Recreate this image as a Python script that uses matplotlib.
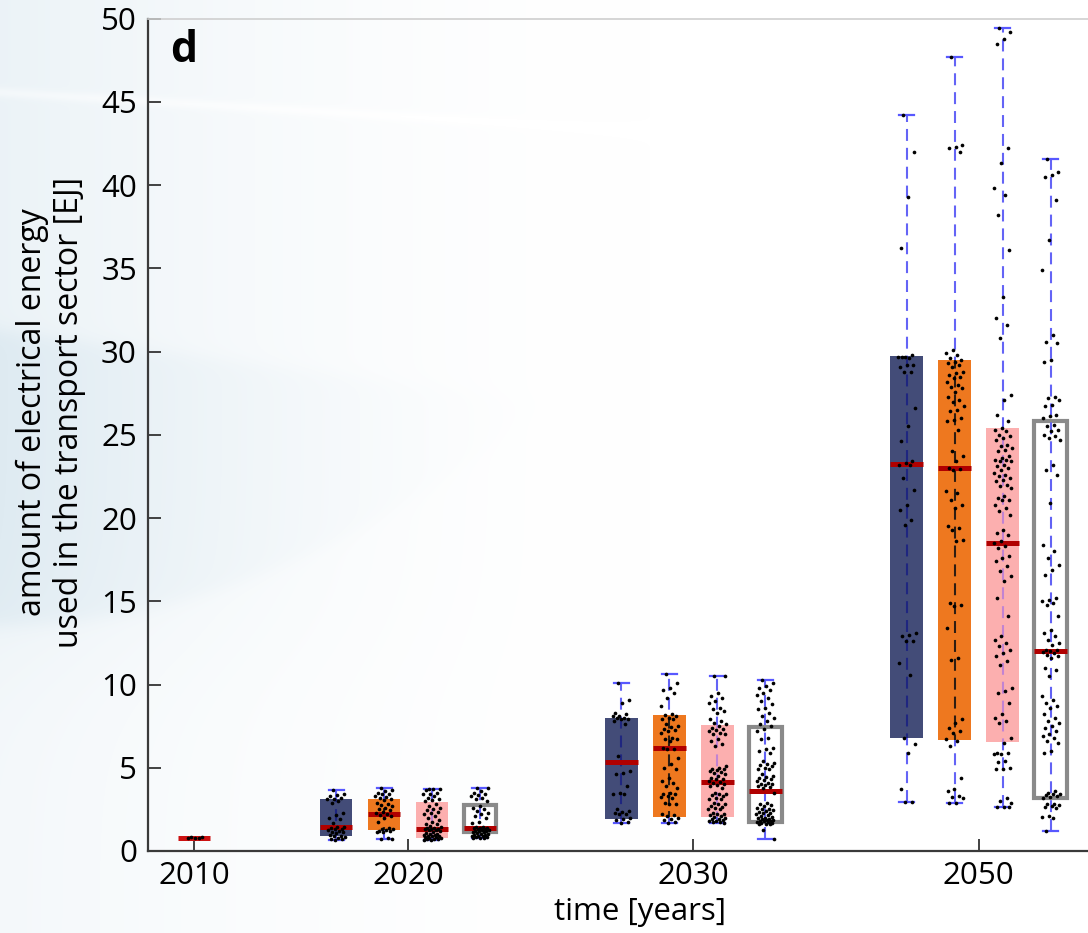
import numpy as np
import matplotlib
matplotlib.use("Agg")
import matplotlib.pyplot as plt

plt.rcParams['font.family'] = ['Open Sans', 'DejaVu Sans']
plt.rcParams['lines.scale_dashes'] = False

# ---------------------------------------------------------------- data
years = ["2010", "2020", "2030", "2050"]
year_pos = [0.0, 1.0, 2.333, 3.667]

# box statistics, rows = 2020, 2030, 2050; columns = scenario sets S1..S4
whis_lo = [[0.66, 0.70, 0.66, 0.76],
           [1.66, 1.70, 1.70, 0.74],
           [2.92, 2.86, 2.64, 1.20]]
q1 = [[0.92, 1.24, 0.76, 1.14],
      [1.90, 2.04, 2.04, 1.76],
      [6.79, 6.67, 6.53, 3.20]]
med = [[1.46, 2.20, 1.30, 1.36],
       [5.37, 6.19, 4.12, 3.62],
       [23.26, 22.98, 18.52, 12.02]]
q3 = [[3.14, 3.14, 2.92, 2.76],
      [8.00, 8.19, 7.57, 7.47],
      [29.73, 29.50, 25.40, 25.85]]
whis_hi = [[3.66, 3.80, 3.72, 3.80],
           [10.11, 10.65, 10.53, 10.29],
           [44.20, 47.67, 49.43, 41.58]]

# 2010 base year
stats_2010 = dict(whislo=0.79, q1=0.79, med=0.81, q3=0.83, whishi=0.83)
pts_2010 = [0.82, 0.82, 0.81, 0.81, 0.80]

# individual scenario values
pts_2020_s1 = [3.66, 3.4, 3.35, 3.3, 3.2, 3.15, 3.1, 3.0, 2.9, 2.3, 2.15, 2.0, 1.9, 1.7,
               1.45, 1.42, 1.4, 1.35, 1.3, 1.25, 1.2, 1.15, 1.12, 1.1, 0.96, 0.92, 0.88,
               0.85, 0.8, 0.75, 0.7, 0.66]
pts_2020_s2 = [3.8, 3.66, 3.6, 3.5, 3.45, 3.4, 3.3, 3.25, 3.2, 3.1, 3.06, 2.9, 2.8, 2.75,
               2.7, 2.6, 2.5, 2.45, 2.35, 2.3, 2.2, 2.15, 2.1, 2.0, 1.74, 1.4, 1.35, 1.3,
               1.25, 1.2, 1.18, 1.15, 1.14, 0.76, 0.72, 0.7]
pts_2020_s3 = [3.72, 3.7, 3.7, 3.68, 3.5, 3.45, 3.4, 3.3, 3.2, 3.1, 3.05, 3.0, 2.8, 2.7,
               2.6, 2.5, 2.45, 2.35, 2.3, 2.2, 2.1, 2.0, 1.85, 1.75, 1.65, 1.6, 1.5, 1.45,
               1.4, 1.38, 1.35, 1.32, 1.3, 1.28, 1.25, 1.2, 1.15, 1.1, 1.05, 1.0, 0.98,
               0.95, 0.92, 0.9, 0.88, 0.85, 0.82, 0.8, 0.78, 0.75, 0.72, 0.7, 0.68, 0.66]
pts_2020_s4 = [3.8, 3.78, 3.6, 3.5, 3.4, 3.35, 3.3, 3.2, 3.1, 3.0, 2.7, 2.6, 2.5, 2.4,
               2.3, 2.2, 2.1, 2.0, 1.74, 1.7, 1.45, 1.42, 1.4, 1.38, 1.36, 1.34, 1.3,
               1.28, 1.25, 1.22, 1.2, 1.18, 1.15, 1.12, 1.1, 1.05, 1.0, 0.98, 0.95, 0.92,
               0.9, 0.88, 0.85, 0.82, 0.8, 0.78, 0.76]

pts_2030_s1 = [10.11, 9.1, 8.9, 8.3, 8.2, 8.1, 8.1, 8.0, 8.0, 7.9, 7.9, 7.8, 7.6, 5.7,
               4.8, 4.7, 4.6, 3.9, 3.5, 3.45, 3.4, 2.5, 2.4, 2.35, 2.3, 2.25, 2.2, 2.0,
               1.9, 1.85, 1.75, 1.66]
pts_2030_s2 = [10.65, 10.1, 9.8, 9.65, 9.5, 9.2, 8.7, 8.2, 8.15, 8.1, 8.0, 7.95, 7.9,
               7.6, 7.5, 7.45, 7.3, 7.25, 7.2, 7.1, 6.8, 6.75, 6.7, 6.6, 6.2, 6.15, 6.1,
               5.6, 5.2, 5.0, 4.9, 4.4, 4.2, 4.1, 3.9, 3.8, 3.5, 3.45, 3.4, 3.3, 3.25,
               3.2, 2.9, 2.85, 2.8, 2.2, 2.15, 2.1, 2.0, 1.9, 1.85, 1.75, 1.7]
pts_2030_s3 = [10.53, 10.5, 9.5, 9.3, 9.2, 9.0, 8.9, 8.6, 8.5, 8.4, 8.3, 7.9, 7.8, 7.7,
               7.6, 7.5, 7.4, 7.3, 7.25, 7.2, 7.1, 7.05, 7.0, 6.7, 6.6, 6.4, 6.3, 5.1,
               5.0, 4.95, 4.9, 4.85, 4.8, 4.75, 4.7, 4.6, 4.5, 4.4, 4.35, 4.3, 4.2, 4.15,
               4.1, 4.0, 3.95, 3.9, 3.8, 3.5, 3.45, 3.4, 3.35, 3.3, 3.2, 3.15, 3.1, 2.9,
               2.85, 2.8, 2.7, 2.65, 2.6, 2.55, 2.5, 2.3, 2.25, 2.2, 2.15, 2.1, 2.05,
               2.0, 1.95, 1.9, 1.85, 1.8, 1.78, 1.75, 1.72, 1.7]
pts_2030_s4 = [10.29, 10.1, 9.9, 9.8, 9.7, 9.5, 9.4, 9.2, 9.0, 8.8, 8.6, 8.5, 8.3, 8.1,
               8.0, 7.8, 7.6, 7.5, 7.3, 7.2, 6.8, 6.75, 6.2, 6.1, 6.0, 5.9, 5.4, 5.3,
               5.2, 5.15, 5.1, 5.0, 4.95, 4.9, 4.6, 4.5, 4.45, 4.4, 4.3, 4.25, 4.2, 4.1,
               4.05, 4.0, 3.95, 3.9, 3.85, 3.8, 3.5, 2.9, 2.8, 2.75, 2.7, 2.6, 2.55, 2.5,
               2.45, 2.4, 2.35, 2.3, 2.3, 2.2, 2.15, 2.1, 2.05, 2.0, 1.98, 1.95, 1.9,
               1.88, 1.85, 1.82, 1.8, 1.78, 1.75, 1.72, 1.7, 1.68, 1.65, 1.62, 1.6,
               1.26, 0.74]

pts_2050_s1 = [44.2, 42.0, 39.3, 36.2, 29.8, 29.7, 29.7, 29.6, 29.7, 29.2, 29.2, 29.1,
               28.8, 28.8, 26.6, 25.5, 24.6, 23.4, 23.3, 23.2, 23.2, 22.4, 21.7, 20.8,
               20.5, 19.9, 19.6, 13.1, 13.0, 12.9, 12.6, 12.6, 11.3, 10.6, 6.8, 6.4,
               5.9, 3.7, 2.92, 2.92]
pts_2050_s2 = [47.67, 42.4, 42.3, 42.2, 42.0, 30.1, 29.9, 29.8, 29.6, 29.5, 29.4, 29.3,
               29.2, 29.1, 28.8, 28.7, 28.6, 28.5, 28.4, 28.2, 28.0, 27.9, 27.8, 27.6,
               27.3, 27.1, 27.0, 26.7, 26.5, 26.4, 26.0, 25.9, 25.8, 25.3, 24.0, 23.7,
               23.4, 23.0, 22.95, 22.9, 21.6, 21.5, 21.1, 20.8, 20.6, 19.5, 19.4, 19.3,
               18.7, 18.6, 14.9, 14.8, 14.7, 13.4, 11.6, 11.5, 7.9, 7.7, 7.4, 7.2, 7.1,
               6.7, 6.6, 6.3, 4.4, 3.7, 3.6, 3.3, 3.25, 3.2, 2.9, 2.86]
pts_2050_s3 = [49.43, 49.2, 48.8, 48.5, 42.2, 41.3, 39.8, 39.4, 38.2, 36.1, 33.3, 32.0,
               31.6, 30.8, 27.4, 27.1, 26.2, 25.8, 25.4, 25.3, 25.2, 25.0, 24.9, 24.8,
               24.7, 24.4, 24.3, 24.2, 24.1, 24.0, 23.7, 23.6, 23.5, 23.5, 23.4, 23.4,
               23.2, 23.1, 23.0, 22.9, 22.7, 22.6, 22.5, 22.4, 22.3, 22.2, 22.0, 21.9,
               21.8, 21.3, 21.2, 21.1, 21.1, 20.8, 20.6, 20.4, 20.2, 19.3, 19.1, 19.0,
               18.6, 18.5, 18.3, 18.2, 17.7, 17.6, 17.4, 17.1, 16.8, 16.5, 16.2, 15.2,
               14.1, 12.9, 12.7, 12.5, 12.3, 12.1, 11.9, 11.7, 11.4, 11.2, 9.8, 9.6,
               9.5, 8.9, 8.2, 8.0, 7.8, 7.7, 6.8, 6.5, 5.9, 5.9, 5.85, 5.8, 5.4, 5.35,
               5.0, 4.95, 4.9, 3.2, 3.0, 2.9, 2.66, 2.65, 2.64]
pts_2050_s4 = [41.58, 40.8, 40.6, 40.5, 39.1, 36.7, 34.9, 31.0, 30.6, 30.5, 29.5, 29.4,
               27.3, 27.2, 27.1, 26.8, 26.7, 26.2, 26.1, 26.0, 25.6, 25.5, 25.3, 25.2,
               25.0, 24.9, 24.8, 24.7, 23.2, 22.9, 22.6, 20.9, 18.4, 18.0, 17.6, 17.2,
               16.9, 16.6, 15.2, 15.1, 15.0, 14.9, 14.8, 14.1, 13.3, 13.1, 12.9, 12.7,
               12.5, 12.4, 12.1, 12.05, 12.0, 11.95, 11.9, 11.8, 11.7, 11.6, 11.0, 10.9,
               10.5, 9.3, 9.1, 8.9, 8.7, 8.6, 8.2, 8.0, 7.8, 7.7, 7.5, 7.4, 7.2, 7.0,
               6.9, 6.8, 6.6, 6.5, 6.0, 5.9, 3.6, 3.5, 3.45, 3.4, 3.35, 3.3, 3.25, 3.2,
               2.8, 2.8, 2.75, 2.7, 2.65, 2.6, 2.1, 2.05, 2.0, 1.2]

points = [[pts_2020_s1, pts_2020_s2, pts_2020_s3, pts_2020_s4],
          [pts_2030_s1, pts_2030_s2, pts_2030_s3, pts_2030_s4],
          [pts_2050_s1, pts_2050_s2, pts_2050_s3, pts_2050_s4]]

# ---------------------------------------------------------------- style
BOX_FACE = ['#434c78', '#ee781f', '#fcafaf', 'white']
BOX_EDGE = ['#434c78', '#ee781f', '#fcafaf', '#8a8a8a']
BOX_LW = [0.0, 0.0, 0.0, 3.0]
DASH_INSIDE = ['#1f2680', '#2e1d12', '#c283d2', '#6262f4']
WHISKER_C = '#6464f6'
CAP_C = '#5858ff'
MED_C = '#b00000'
OFFSETS = [-0.3364, -0.1121, 0.1121, 0.3364]
BOX_W = 0.154
CAP_W = 0.07
JITTER = 0.042
DASH = (0, (8.6, 5.0))
DOT_S = 7

W_PX, H_PX = 1088, 933
fig = plt.figure(figsize=(W_PX / 100, H_PX / 100), dpi=100)

# soft bluish backdrop
yy, xx = np.mgrid[0:H_PX, 0:W_PX].astype(float)
tint = np.array([0.84, 0.90, 0.935])
sig = lambda z: 1 / (1 + np.exp(-z))
w = 0.48 * np.clip(1 - xx / 650.0, 0, 1) ** 1.8
band_top = 330 + 0.13 * xx
band_bot = 625 - 0.00075 * xx ** 2
band = sig((yy - band_top) / 5) * sig((band_bot - yy) / 5) * np.clip(1 - xx / 560, 0, 1) ** 1.3
streak = np.exp(-((yy - (92 + 0.06 * xx)) / 5) ** 2) * np.clip(1 - xx / 700, 0, 1)
low = sig((yy - 640) / 40)          # paler towards the bottom
w = w * (1 - 0.45 * low) + 0.32 * band - 0.2 * streak
w = np.clip(w, 0, 1)
img = 1 - w[..., None] * (1 - tint)
bg = fig.add_axes([0, 0, 1, 1], zorder=-1)
bg.imshow(img, aspect='auto', extent=[0, 1, 0, 1], interpolation='bilinear')
bg.axis('off')

# main axes run slightly past the right edge
ax_left, ax_right = 148, 1100
ax_bot, ax_top = 851, 18.6
ax = fig.add_axes([ax_left / W_PX, 1 - ax_bot / H_PX,
                   (ax_right - ax_left) / W_PX, (ax_bot - ax_top) / H_PX])
ax.set_facecolor('none')
px_per_unit = 214.0
ax.set_xlim((ax_left - 194) / px_per_unit, (ax_right - 194) / px_per_unit)
ax.set_ylim(0, 50)


def jitter(n):
    return ((np.arange(n) * 0.6180339887 + 0.31) % 1 - 0.5) * 2 * JITTER


def draw_box(x, st, k, vals):
    art = ax.bxp([dict(st, fliers=[])], positions=[x], widths=BOX_W, capwidths=CAP_W,
                 patch_artist=True, showfliers=False, manage_ticks=False,
                 whiskerprops=dict(linestyle='none'),
                 capprops=dict(color=CAP_C, linewidth=1.6),
                 medianprops=dict(color=MED_C, linewidth=3.6, solid_capstyle='butt'),
                 boxprops=dict(linewidth=BOX_LW[k]))
    box = art['boxes'][0]
    box.set_facecolor(BOX_FACE[k])
    box.set_edgecolor(BOX_EDGE[k])
    box.set_zorder(2)
    for c in art['caps']:
        c.set_zorder(2.6)
    for m in art['medians']:
        m.set_zorder(3)
    # dashed whisker through the full range, tinted where it crosses the box
    ax.plot([x, x], [st['whislo'], st['whishi']], color=WHISKER_C, lw=1.5,
            linestyle=DASH, zorder=1.5)
    inner, = ax.plot([x, x], [st['whislo'], st['whishi']], color=DASH_INSIDE[k],
                     lw=1.5, linestyle=DASH, zorder=2.5)
    inner.set_clip_path(box)
    ax.scatter(x + jitter(len(vals)), vals, s=DOT_S, color='black',
               linewidths=0, zorder=4)


# 2010 base year: only the median bar and its points
art = ax.bxp([dict(stats_2010, fliers=[])], positions=[year_pos[0]], widths=BOX_W,
             patch_artist=True, showfliers=False, showcaps=False, manage_ticks=False,
             whiskerprops=dict(linestyle='none'),
             medianprops=dict(color='#cc1111', linewidth=3.6, solid_capstyle='butt'),
             boxprops=dict(linewidth=0, facecolor='none'))
for m in art['medians']:
    m.set_zorder(3)
ax.scatter(year_pos[0] + jitter(len(pts_2010)), pts_2010, s=DOT_S, color='black',
           linewidths=0, zorder=4)

for i in range(3):
    for k in range(4):
        st = dict(whislo=whis_lo[i][k], q1=q1[i][k], med=med[i][k],
                  q3=q3[i][k], whishi=whis_hi[i][k])
        draw_box(year_pos[i + 1] + OFFSETS[k], st, k, points[i][k])

# axes styling
ax.set_xticks(year_pos)
ax.set_xticklabels(years)
ax.set_yticks(np.arange(0, 51, 5))
ax.tick_params(direction='in', length=9, width=1.3, color='#333333',
               labelsize=22.5, labelcolor='black', top=False, right=False)
ax.tick_params(axis='x', pad=7)
ax.tick_params(axis='y', pad=8)
for side in ['left', 'bottom']:
    ax.spines[side].set_color('#3a3a3a')
    ax.spines[side].set_linewidth(1.6)
ax.spines['top'].set_color('#cfcfcf')
ax.spines['top'].set_linewidth(1.2)
ax.spines['right'].set_visible(False)

fig.text(51 / W_PX, 1 - 412 / H_PX,
         "amount of electrical energy\nused in the transport sector [EJ]",
         rotation=90, ha='center', va='center', multialignment='center',
         fontsize=23, linespacing=1.15)
fig.text(640 / W_PX, 1 - 912 / H_PX, "time [years]", ha='center', va='center',
         fontsize=22.5)
fig.text(170 / W_PX, 1 - 51 / H_PX, "d", ha='left', va='center',
         fontsize=31, fontweight='bold')

fig.savefig("out.png", dpi=100)
